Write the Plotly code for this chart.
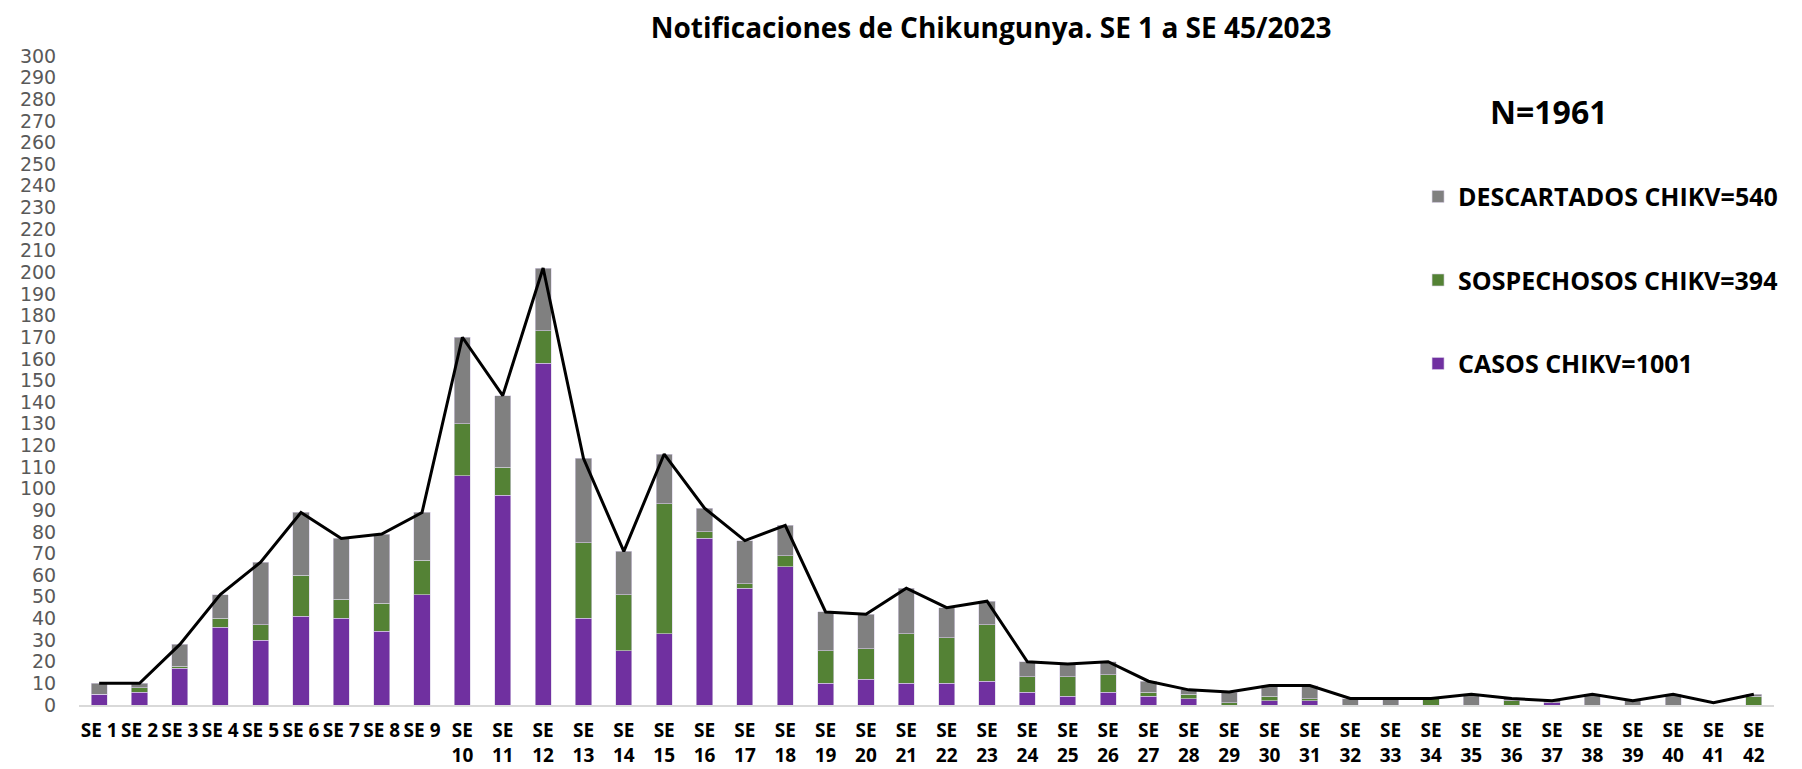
import plotly.graph_objects as go

semanas = [f"SE {i}" for i in range(1, 43)]
casos = [5, 6, 17, 36, 30, 41, 40, 34, 51, 106, 97, 158, 40, 25, 33, 77, 54, 64, 10, 12, 10,
         10, 11, 6, 4, 6, 4, 3, 0, 2, 2, 0, 0, 0, 0, 0, 1, 0, 0, 0, 0, 0]
sospechosos = [0, 2, 1, 4, 7, 19, 9, 13, 16, 24, 13, 15, 35, 26, 60, 3, 2, 5, 15, 14, 23,
               21, 26, 7, 9, 8, 2, 2, 1, 2, 1, 0, 0, 3, 0, 2, 0, 0, 0, 0, 0, 4]
descartados = [5, 2, 10, 11, 29, 29, 28, 32, 22, 40, 33, 29, 39, 20, 23, 11, 20, 14, 18, 16, 21,
               14, 11, 7, 6, 6, 5, 2, 5, 5, 6, 3, 3, 0, 5, 1, 1, 5, 2, 5, 0, 1]
totales = [10, 10, 28, 51, 66, 89, 77, 79, 89, 170, 143, 202, 114, 71, 116, 91, 76, 83, 43, 42, 54,
           45, 48, 20, 19, 20, 11, 7, 6, 9, 9, 3, 3, 3, 5, 3, 2, 5, 2, 5, 1, 5]
tick_labels = [s if i < 9 else s.replace(" ", "<br>") for i, s in enumerate(semanas)]
y_ticks = list(range(0, 301, 10))

nombres = ["CASOS CHIKV=1001", "SOSPECHOSOS CHIKV=394", "DESCARTADOS CHIKV=540"]
colores = ["#7030A0", "#548235", "#808080"]
rangos = [3, 2, 1]

fig = go.Figure()
for vals, nom, col, rk in zip([casos, sospechosos, descartados], nombres, colores, rangos):
    fig.add_trace(go.Bar(x=semanas, y=vals, name=nom, legendgroup=nom, legendrank=rk,
                         marker=dict(color=col, line=dict(color="#D9D0E6", width=0.6))))
fig.add_trace(go.Scatter(x=semanas, y=totales, mode="lines", showlegend=False,
                         line=dict(color="black", width=3)))

# page body has an 8px margin: figure is sized to fit inside the 1802x769 window
fig.update_layout(
    barmode="stack", bargap=0.6,
    width=1794, height=761,
    paper_bgcolor="white", plot_bgcolor="white",
    margin=dict(l=67, r=28, t=48, b=64),
    title=dict(text="<b>Notificaciones de Chikungunya. SE 1 a SE 45/2023</b>",
               x=0.548, xanchor="center", y=0.9737, yanchor="middle",
               font=dict(family="Open Sans", size=28, color="black")),
    legend=dict(x=0.790, xanchor="left", y=0.8186, yanchor="top",
                traceorder="grouped", tracegroupgap=48,
                font=dict(family="Open Sans", size=25, color="black", weight="bold"),
                bgcolor="rgba(0,0,0,0)"),
    annotations=[dict(text="<b>N=1961</b>", x=0.8675, y=0.9145, xref="paper", yref="paper",
                      xanchor="center", yanchor="middle",
                      showarrow=False, font=dict(family="Open Sans", size=32, color="black"))],
)
fig.update_xaxes(tickvals=semanas, ticktext=tick_labels, showgrid=False, automargin=False,
                 showline=True, linecolor="#D9D9D9", linewidth=2,
                 tickfont=dict(family="Open Sans", size=19, color="black", weight="bold"),
                 ticks="outside", ticklen=7, tickcolor="rgba(0,0,0,0)", tickangle=0)
fig.update_yaxes(range=[0, 300], tickvals=y_ticks, showgrid=False, zeroline=False,
                 showline=False, ticks="outside", ticklen=18, tickcolor="rgba(0,0,0,0)",
                 tickfont=dict(family="DejaVu Sans", size=19, color="#595959"))

fig.write_html("out.html")
